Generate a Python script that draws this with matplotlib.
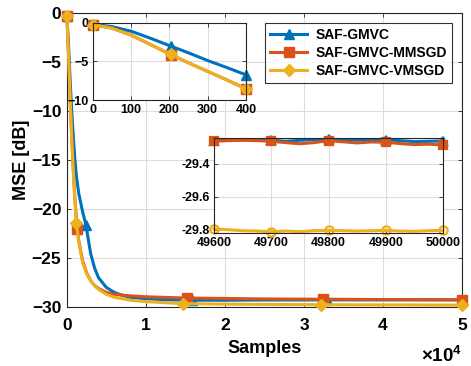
import matplotlib
matplotlib.use("Agg")
import matplotlib.pyplot as plt

plt.rcParams['font.family'] = ['Liberation Sans', 'DejaVu Sans']
plt.rcParams['font.weight'] = 'bold'
plt.rcParams['mathtext.default'] = 'regular'

labels = ["SAF-GMVC", "SAF-GMVC-MMSGD", "SAF-GMVC-VMSGD"]
colors = ["#0072BD", "#D95319", "#EDB120"]
markers = ["^", "s", "D"]

# ---- main curves (samples, dB) ----
x_blue = [0, 200, 400, 600, 800, 1000, 1200, 1500, 2000, 2400, 3000, 3500, 4000, 5000,
          6000, 7000, 8000, 10000, 12500, 15800, 20000, 25000, 32900, 40000, 45000, 50000]
y_blue = [-0.3, -3.0, -6.7, -9.8, -12.5, -14.8, -16.6, -18.4, -20.3, -21.6, -24.5, -26.0,
          -27.0, -28.0, -28.5, -28.8, -29.0, -29.15, -29.25, -29.3, -29.3, -29.28, -29.27,
          -29.27, -29.26, -29.26]
mk_blue = [0, 9, 19, 22, 25]

x_orange = [0, 200, 400, 600, 800, 1000, 1300, 1500, 2000, 2500, 3000, 3500, 4000, 5000,
            6000, 8000, 10000, 15200, 20000, 25000, 32400, 40000, 45000, 50000]
y_orange = [-0.3, -4.1, -8.5, -12.4, -15.8, -18.8, -22.0, -23.2, -25.3, -26.5, -27.3, -27.8,
            -28.1, -28.5, -28.7, -28.85, -28.95, -29.08, -29.12, -29.17, -29.2, -29.23,
            -29.25, -29.27]
mk_orange = [0, 6, 17, 20, 23]

x_yellow = [0, 200, 400, 600, 800, 1000, 1200, 1500, 2000, 2500, 3000, 3500, 4000, 5000,
            6000, 8000, 10000, 14700, 20000, 25000, 32200, 40000, 45000, 50000]
y_yellow = [-0.3, -4.1, -8.5, -12.5, -16.0, -19.0, -21.4, -23.4, -25.5, -26.6, -27.3, -27.8,
            -28.2, -28.7, -29.0, -29.3, -29.45, -29.65, -29.7, -29.73, -29.76, -29.78,
            -29.79, -29.8]
mk_yellow = [0, 6, 17, 20, 23]

# ---- inset 1 (first 400 samples) ----
xi1 = [0, 50, 100, 150, 205, 250, 300, 350, 400]
yi1_blue = [-0.2, -0.5, -1.1, -2.0, -3.05, -3.9, -4.9, -5.8, -6.75]
yi1_orange = [-0.25, -0.7, -1.6, -2.8, -4.15, -5.2, -6.3, -7.4, -8.55]
yi1_yellow = [-0.25, -0.7, -1.6, -2.8, -4.1, -5.2, -6.3, -7.4, -8.6]
mk_i1 = [0, 4, 8]

# ---- inset 2 (last 400 samples) ----
xi2 = [49600, 49625, 49650, 49675, 49700, 49725, 49750, 49775, 49800, 49825, 49850,
       49875, 49900, 49925, 49950, 49975, 50000]
yi2_blue = [-29.258, -29.255, -29.253, -29.254, -29.255, -29.262, -29.256, -29.252,
            -29.250, -29.252, -29.254, -29.252, -29.253, -29.258, -29.264, -29.262, -29.260]
yi2_orange = [-29.262, -29.258, -29.256, -29.258, -29.262, -29.270, -29.277, -29.270,
              -29.258, -29.265, -29.272, -29.266, -29.268, -29.276, -29.282, -29.280, -29.284]
yi2_yellow = [-29.795, -29.800, -29.806, -29.808, -29.813, -29.808, -29.812, -29.806,
              -29.804, -29.806, -29.808, -29.806, -29.804, -29.808, -29.810, -29.806, -29.804]
mk_i2 = [0, 4, 8, 12, 16]
markers_i2 = ["^", "s", "o"]

main_xticks = [0, 10000, 20000, 30000, 40000, 50000]
main_xticklabels = ["0", "1", "2", "3", "4", "5"]

fig = plt.figure(figsize=(4.71, 3.66), dpi=100)
ax = fig.add_axes([0.142, 0.161, 0.839, 0.803])

series = [(x_blue, y_blue, mk_blue), (x_orange, y_orange, mk_orange),
          (x_yellow, y_yellow, mk_yellow)]
for (xs, ys, mk), c, m, lab in zip(series, colors, markers, labels):
    ax.plot(xs, ys, color=c, lw=2.2, marker=m, markevery=mk,
            markersize=7 if m != "D" else 6, label=lab, clip_on=False, zorder=3)

spine_c = "#262626"
def style(a, fs, pad):
    a.grid(True, color="#dcdcdc", lw=0.8)
    a.set_axisbelow(True)
    for s in a.spines.values():
        s.set_color(spine_c)
        s.set_linewidth(0.8)
    a.tick_params(direction="in", top=True, right=True, colors=spine_c,
                  labelcolor="black", labelsize=fs, length=3, width=0.6, pad=pad)
    for t in a.get_xticklabels() + a.get_yticklabels():
        t.set_fontweight("bold")

ax.set_xlim(0, 50000)
ax.set_ylim(-30, 0)
ax.set_xticks(main_xticks)
ax.set_xticklabels(main_xticklabels)
ax.set_yticks([-30, -25, -20, -15, -10, -5, 0])
style(ax, 12.5, 4)
ax.tick_params(axis="x", pad=8)
ax.set_xlabel("Samples", fontsize=13, fontweight="bold", labelpad=5)
ax.set_ylabel("MSE [dB]", fontsize=13, fontweight="bold", labelpad=1)
fig.text(462/471, 1 - 362/366, r"$\times$10$^{4}$", ha="right", va="baseline",
         fontsize=13.5, fontweight="bold")

leg = ax.legend(loc="upper right", bbox_to_anchor=(452/471, 1 - 23/366),
                bbox_transform=fig.transFigure, borderaxespad=0,
                prop={"weight": "bold", "size": 10}, frameon=True, fancybox=False,
                handlelength=2.7, labelspacing=0.3, borderpad=0.35, handletextpad=0.6)
leg.get_frame().set_edgecolor("black")
leg.get_frame().set_linewidth(0.8)

# inset 1
a1 = fig.add_axes([92.7/471, 1 - 100/366, (246 - 92.7)/471, (100 - 22.7)/366])
for ys, c, m in zip([yi1_blue, yi1_orange, yi1_yellow], colors, markers):
    a1.plot(xi1, ys, color=c, lw=2.2, marker=m, markevery=mk_i1,
            markersize=7 if m != "D" else 6, clip_on=False)
a1.set_xlim(0, 400)
a1.set_ylim(-10, 0)
a1.set_xticks([0, 100, 200, 300, 400])
a1.set_yticks([-10, -5, 0])
style(a1, 9, 3)

# inset 2
a2 = fig.add_axes([214/471, 1 - 233/366, (443 - 214)/471, (233 - 138)/366])
for ys, c, m in zip([yi2_blue, yi2_orange, yi2_yellow], colors, markers_i2):
    a2.plot(xi2, ys, color=c, lw=2.2, marker=m, markevery=mk_i2, markersize=6,
            markerfacecolor=(c if m != "o" else "none"), markeredgewidth=1.6,
            clip_on=False)
a2.set_xlim(49600, 50000)
a2.set_ylim(-29.82, -29.242)
a2.set_xticks([49600, 49700, 49800, 49900, 50000])
a2.set_yticks([-29.8, -29.6, -29.4])
a2.set_yticklabels(["-29.8", "-29.6", "-29.4"])
a2.set_xticklabels(["49600", "49700", "49800", "49900", "50000"])
style(a2, 9, 3)

fig.savefig("out.png", dpi=100)
